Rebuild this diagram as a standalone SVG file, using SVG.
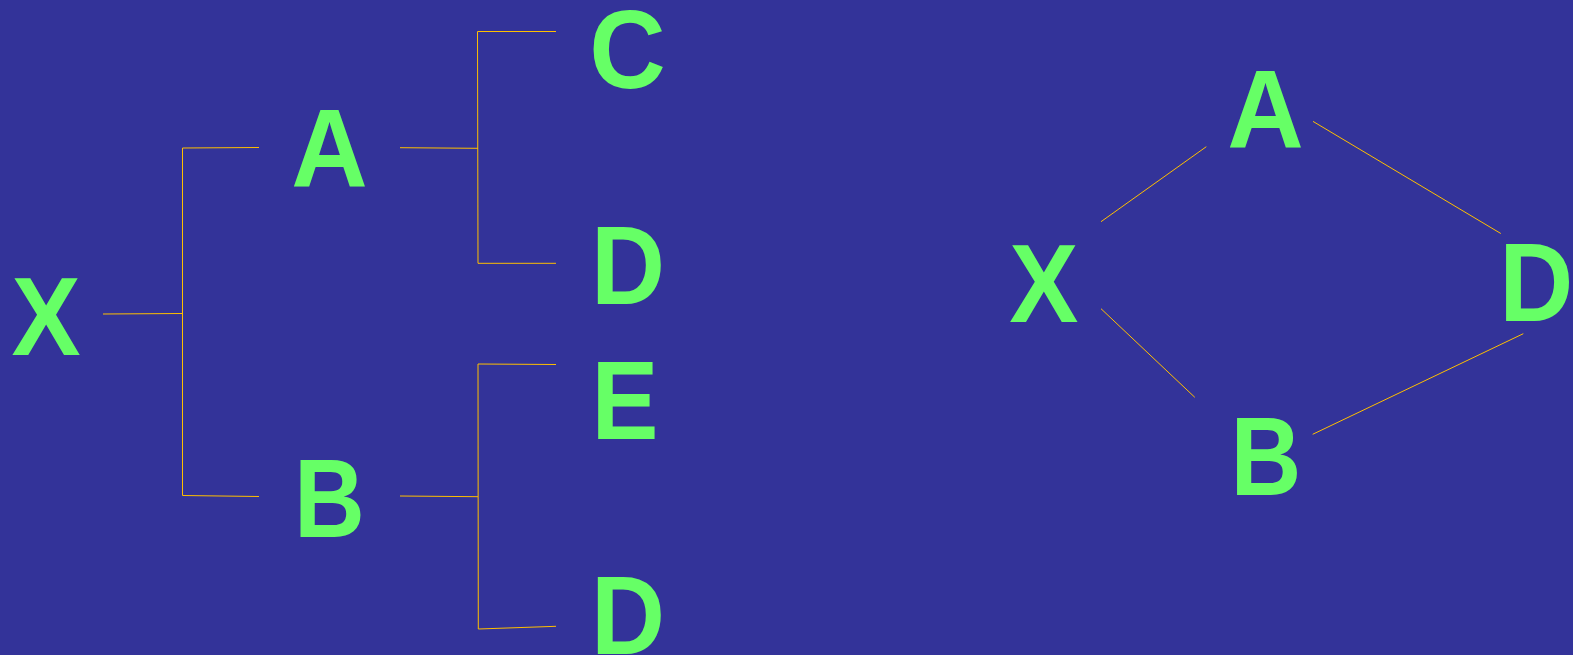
<svg xmlns="http://www.w3.org/2000/svg" width="1573" height="655" viewBox="0 0 1573 655">
<style>
.n{font-family:"Liberation Sans",Arial,sans-serif;font-weight:bold;font-size:111.5px;fill:#66ff66;text-anchor:middle}
.c line,.c polyline{stroke:#ffbf00;stroke-width:1;fill:none}
</style>
<rect width="1573" height="655" fill="#333399"/>
<g class="c" id="connectors">
<line x1="103" y1="314" x2="182.5" y2="313.5"/>
<polyline points="259,147.5 182.5,148 182.5,495.5 259,496.5"/>
<line x1="400" y1="147.7" x2="478" y2="148.3"/>
<polyline points="556,31.5 477.5,31.5 478,263.3 556,263.3"/>
<line x1="400" y1="496" x2="478" y2="496.7"/>
<polyline points="556,364.5 478,364 478.3,629 556,626.3"/>
<line x1="1101" y1="221.7" x2="1206.3" y2="146.7"/>
<line x1="1101" y1="308.7" x2="1194.8" y2="397.3"/>
<line x1="1313" y1="121.4" x2="1500.8" y2="233.5"/>
<line x1="1312.7" y1="434.3" x2="1523.3" y2="333.7"/>
</g>
<g id="tX"><text class="n" transform="translate(46.2,355) scale(0.93,1)">X</text></g>
<g id="tA"><text class="n" transform="translate(329.5,187.4) scale(0.95,1)">A</text></g>
<g id="tB"><text class="n" transform="translate(329.5,536.5) scale(0.88,1)">B</text></g>
<g id="tC"><text class="n" transform="translate(627.5,87.6) scale(0.95,1)">C</text></g>
<g id="tD1"><text class="n" transform="translate(628,304) scale(0.92,1)">D</text></g>
<g id="tE"><text class="n" transform="translate(625,438.5) scale(0.9,1)">E</text></g>
<g id="tD2"><text class="n" transform="translate(628,654) scale(0.92,1)">D</text></g>
<g id="gX"><text class="n" transform="translate(1043.8,322) scale(0.93,1)">X</text></g>
<g id="gA"><text class="n" transform="translate(1265.5,147.5) scale(0.95,1)">A</text></g>
<g id="gD"><text class="n" transform="translate(1536.4,321) scale(0.92,1)">D</text></g>
<g id="gB"><text class="n" transform="translate(1266,494.6) scale(0.88,1)">B</text></g>
</svg>
